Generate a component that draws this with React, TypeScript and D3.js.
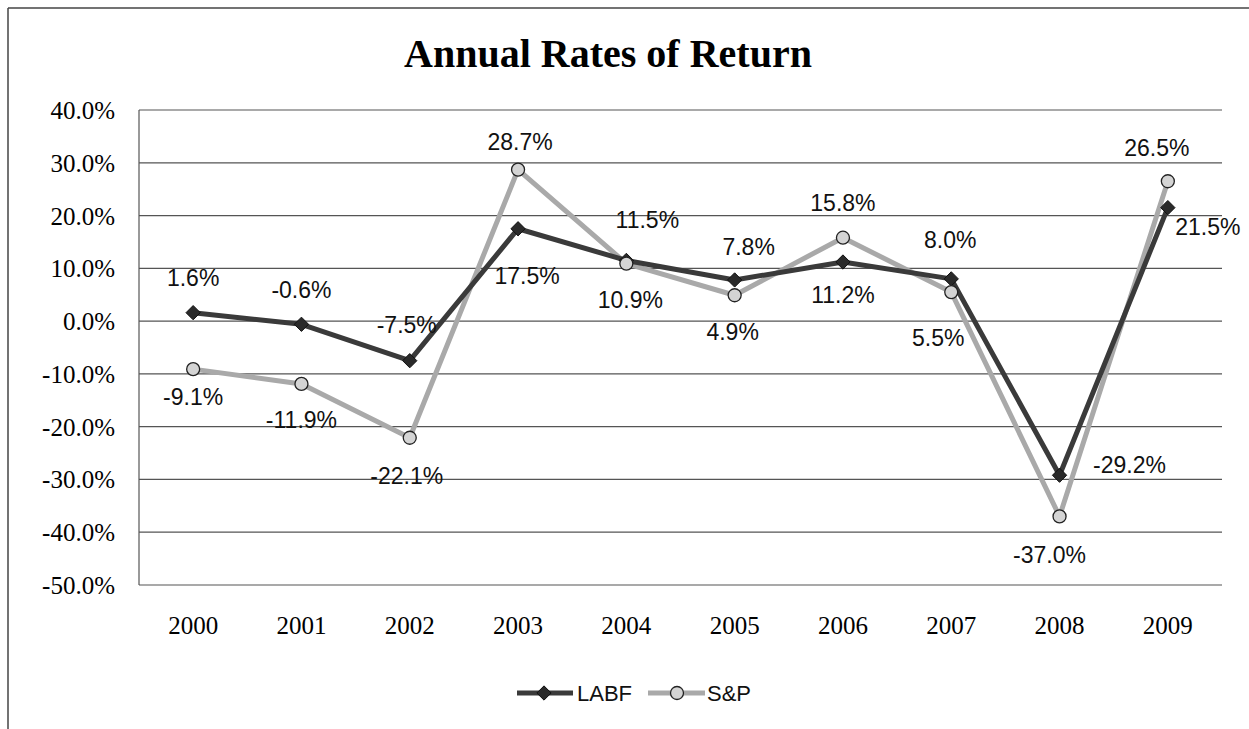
import React from "react";
import * as d3 from "d3";

const years = ["2000", "2001", "2002", "2003", "2004", "2005", "2006", "2007", "2008", "2009"];
const labfValues = [1.6, -0.6, -7.5, 17.5, 11.5, 7.8, 11.2, 8.0, -29.2, 21.5];
const spValues = [-9.1, -11.9, -22.1, 28.7, 10.9, 4.9, 15.8, 5.5, -37.0, 26.5];
const yTicks = [40, 30, 20, 10, 0, -10, -20, -30, -40, -50];
const seriesNames = ["LABF", "S&P"];

// label placement offsets (px) relative to each point
const labfLabelOffsets: [number, number][] = [
  [0, -35], [0, -34], [-3, -36], [9, 47], [21, -40], [14, -33], [0, 33], [-1, -39], [70, -10], [40, 19],
];
const spLabelOffsets: [number, number][] = [
  [0, 28], [0, 36], [-3, 38], [2, -28], [4, 36], [-2, 37], [0, -35], [-13, 46], [-10, 39], [-11, -33],
];

const W = 1249;
const H = 729;
const plot = { left: 139, right: 1222, top: 110, bottom: 585 };

export default function App() {
  const x = d3.scaleBand<string>().domain(years).range([plot.left, plot.right]);
  const y = d3.scaleLinear().domain([-50, 40]).range([plot.bottom, plot.top]);
  const cx = (i: number) => (x(years[i]) as number) + x.bandwidth() / 2;
  const line = d3
    .line<number>()
    .x((_, i) => cx(i))
    .y((d) => y(d));

  const labfColor = "#3a3a3a";
  const spColor = "#a9a9a9";
  const fmt = (v: number) => v.toFixed(1) + "%";
  const diamond = d3.symbol().type(d3.symbolDiamond2).size(130)();
  const labelFont = "'Liberation Sans', Arial, sans-serif";
  const serif = "'Liberation Serif', 'Times New Roman', serif";

  return (
    <svg width={W} height={H} style={{ position: "absolute", left: 0, top: 0, background: "#fff" }}>
      {/* outer frame */}
      <line x1={8} y1={8} x2={W} y2={8} stroke="#444" strokeWidth={1.5} />
      <line x1={8} y1={8} x2={8} y2={H} stroke="#444" strokeWidth={1.5} />

      <text x={608} y={67} textAnchor="middle" fontFamily={serif} fontWeight="bold" fontSize={40} fill="#000">
        Annual Rates of Return
      </text>

      {/* gridlines */}
      {yTicks.map((t) => (
        <line key={t} x1={plot.left} x2={plot.right} y1={y(t)} y2={y(t)} stroke="#555" strokeWidth={1.2} />
      ))}
      <line x1={plot.left} x2={plot.left} y1={plot.top} y2={plot.bottom} stroke="#555" strokeWidth={1.2} />

      {/* y tick labels */}
      {yTicks.map((t) => (
        <text key={t} x={115} y={y(t) + 9} textAnchor="end" fontFamily={serif} fontSize={25} fill="#000">
          {t.toFixed(1) + "%"}
        </text>
      ))}

      {/* x labels */}
      {years.map((yr, i) => (
        <text key={yr} x={cx(i)} y={634} textAnchor="middle" fontFamily={serif} fontSize={25} fill="#000">
          {yr}
        </text>
      ))}

      {/* lines */}
      <path d={line(spValues) as string} fill="none" stroke={spColor} strokeWidth={5} strokeLinejoin="round" />
      <path d={line(labfValues) as string} fill="none" stroke={labfColor} strokeWidth={5} strokeLinejoin="round" />

      {/* markers */}
      {labfValues.map((v, i) => (
        <path key={"lm" + i} d={diamond as string} transform={`translate(${cx(i)},${y(v)})`} fill="#2a2a2a" stroke="#111" strokeWidth={1} />
      ))}
      {spValues.map((v, i) => (
        <circle key={"sm" + i} cx={cx(i)} cy={y(v)} r={6.5} fill="#d4d4d4" stroke="#222" strokeWidth={1.3} />
      ))}

      {/* data labels */}
      {labfValues.map((v, i) => (
        <text
          key={"ll" + i}
          x={cx(i) + labfLabelOffsets[i][0]}
          y={y(v) + labfLabelOffsets[i][1]}
          dy="0.35em"
          textAnchor="middle"
          fontFamily={labelFont}
          fontSize={23}
          fill="#111"
        >
          {fmt(v)}
        </text>
      ))}
      {spValues.map((v, i) => (
        <text
          key={"sl" + i}
          x={cx(i) + spLabelOffsets[i][0]}
          y={y(v) + spLabelOffsets[i][1]}
          dy="0.35em"
          textAnchor="middle"
          fontFamily={labelFont}
          fontSize={23}
          fill="#111"
        >
          {fmt(v)}
        </text>
      ))}

      {/* legend */}
      <g>
        <line x1={517} x2={573} y1={693} y2={693} stroke={labfColor} strokeWidth={5} />
        <path d={diamond as string} transform="translate(544,693)" fill="#2a2a2a" stroke="#111" strokeWidth={1} />
        <text x={577} y={693} dy="0.35em" fontFamily={labelFont} fontSize={22} fill="#111">
          {seriesNames[0]}
        </text>
        <line x1={648} x2={705} y1={693} y2={693} stroke={spColor} strokeWidth={5} />
        <circle cx={677} cy={693} r={6.5} fill="#d4d4d4" stroke="#222" strokeWidth={1.3} />
        <text x={707} y={693} dy="0.35em" fontFamily={labelFont} fontSize={22} fill="#111">
          {seriesNames[1]}
        </text>
      </g>
    </svg>
  );
}
